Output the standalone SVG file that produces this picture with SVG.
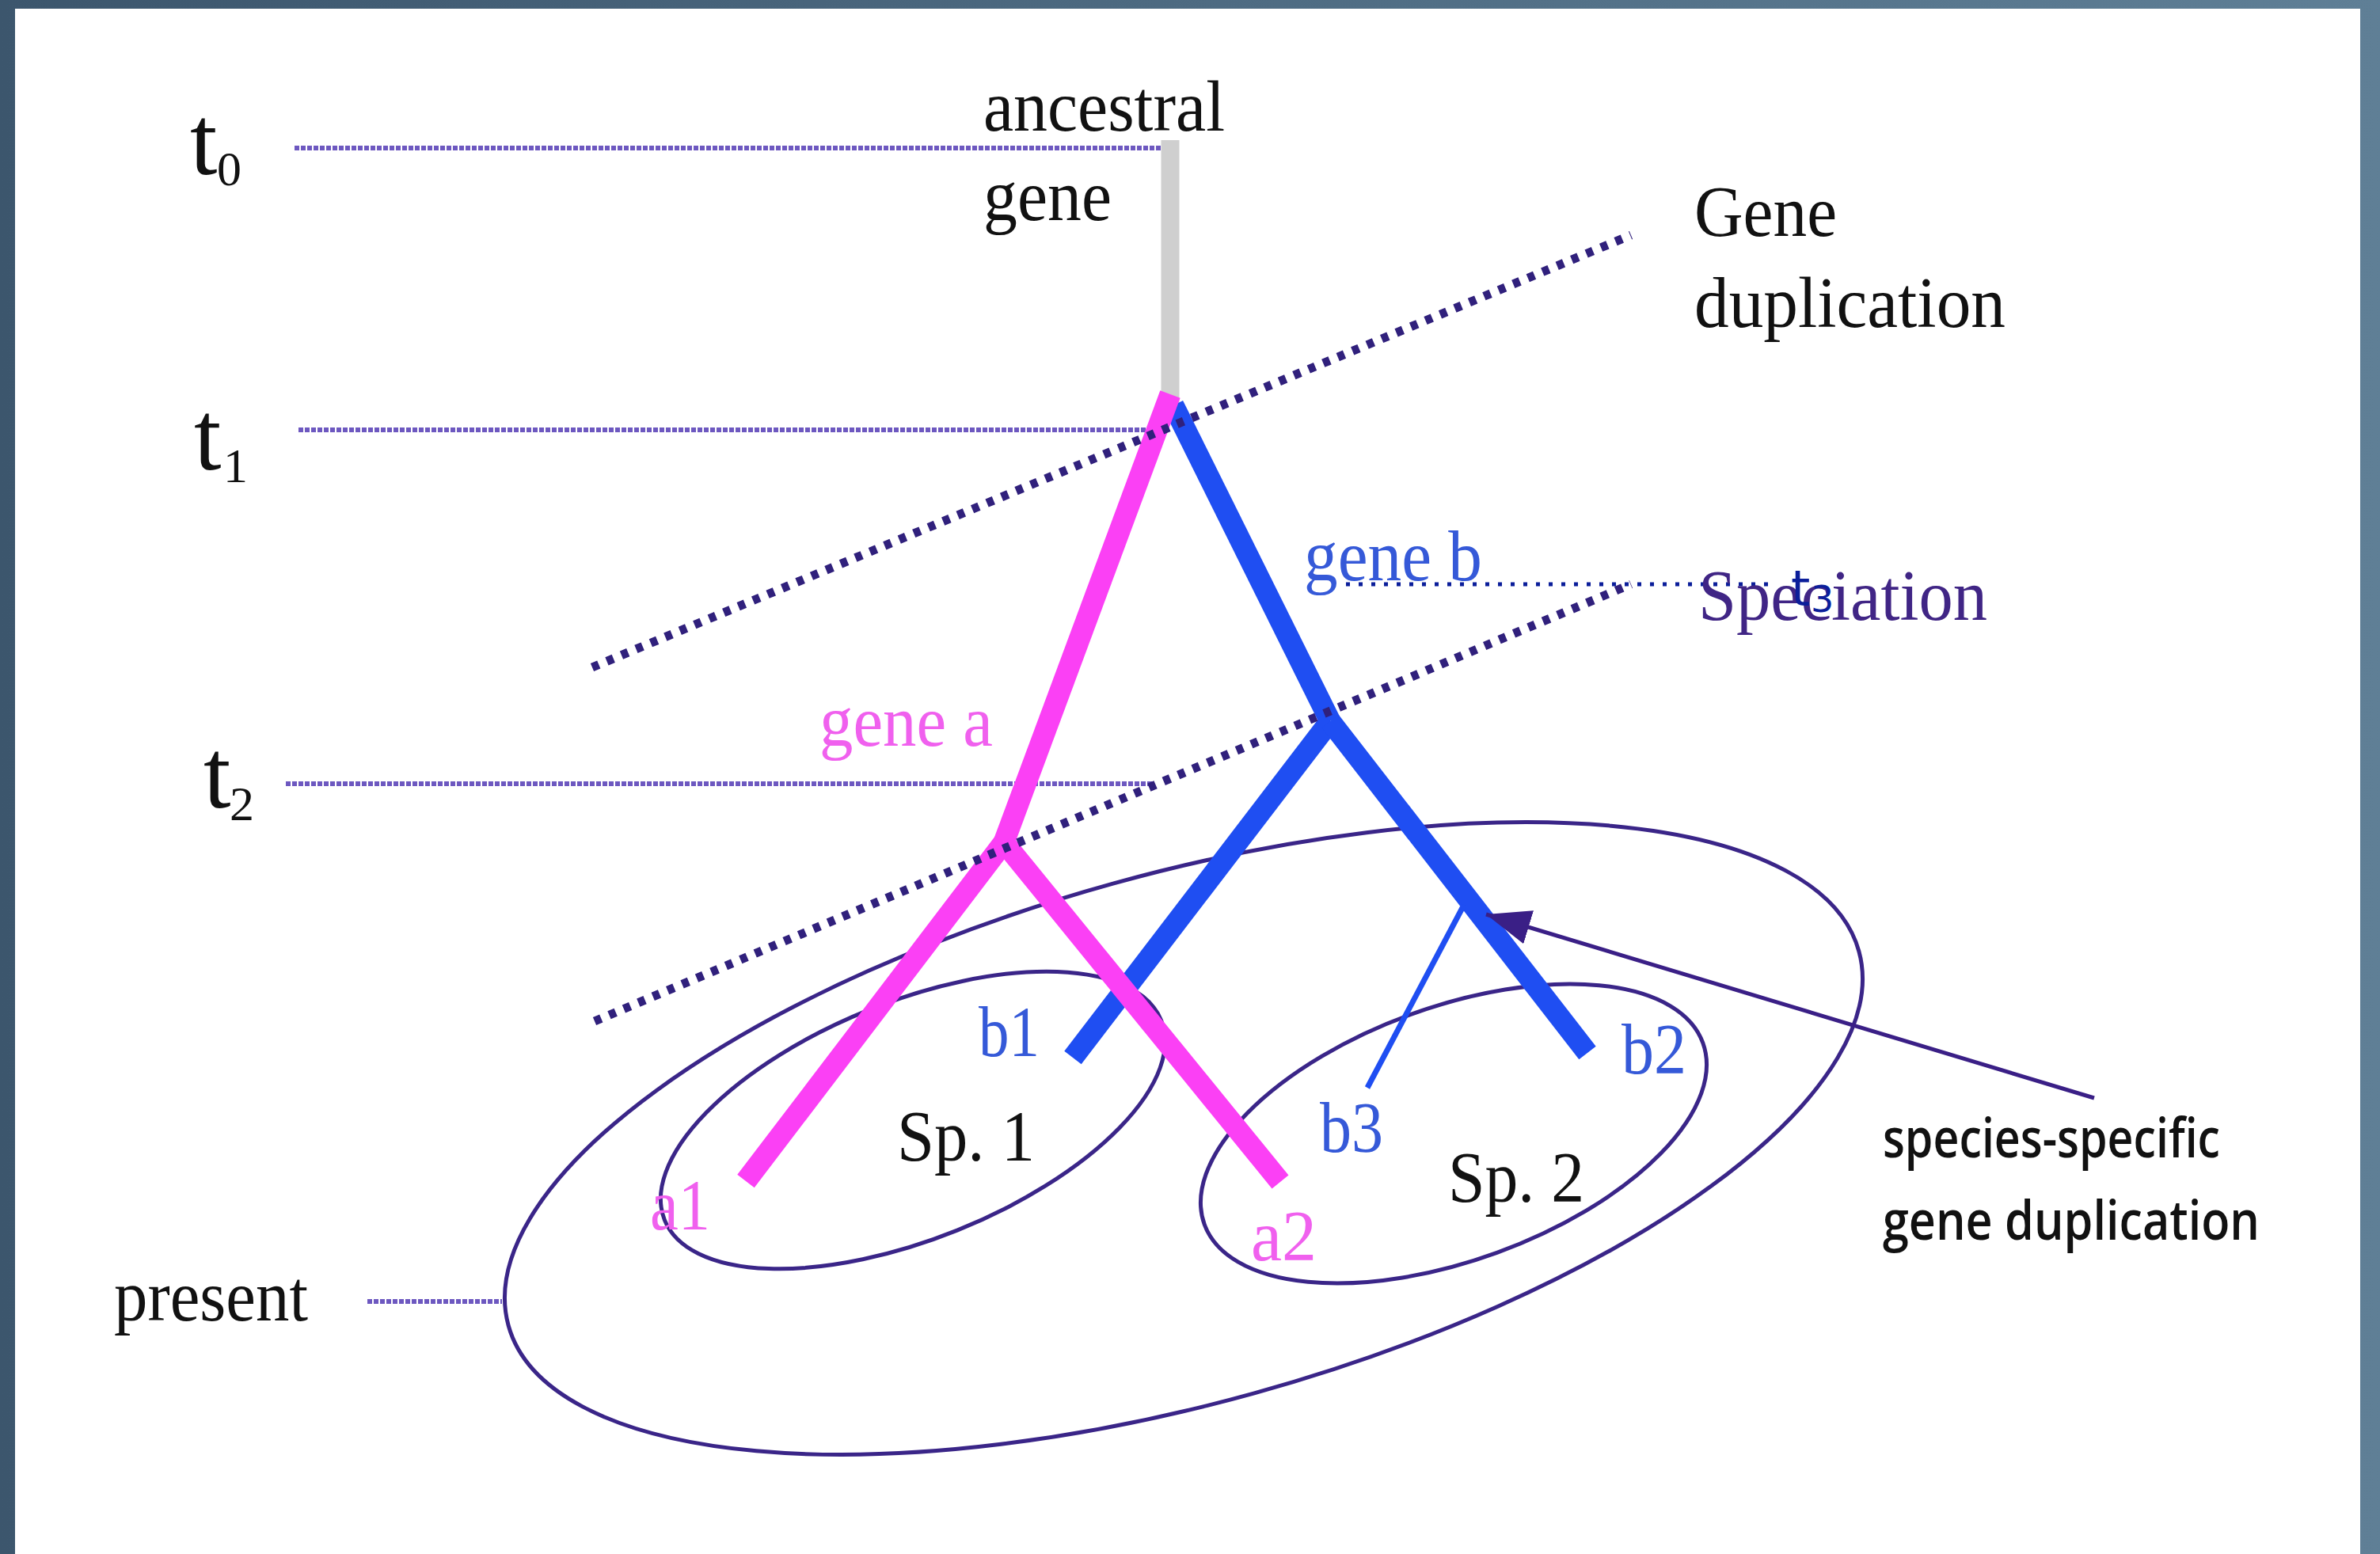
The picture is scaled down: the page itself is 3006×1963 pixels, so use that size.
<svg xmlns="http://www.w3.org/2000/svg" width="3006" height="1963" viewBox="0 0 3006 1963">
<defs>
<linearGradient id="bg" x1="0" y1="0" x2="1" y2="0">
<stop offset="0" stop-color="#3c566d"/>
<stop offset="1" stop-color="#5f7f96"/>
</linearGradient>
<marker id="ah" markerUnits="userSpaceOnUse" markerWidth="60" markerHeight="50" refX="56" refY="22" orient="auto">
<path d="M0,0 L56,22 L0,44 z" fill="#3a1f86"/>
</marker>
<style>
.tl{stroke:#6d58c0;stroke-width:6;stroke-dasharray:6 2;fill:none}
.ell{fill:none;stroke:#3a2588;stroke-width:5}
.pk{stroke:#fb40f5;stroke-width:27;fill:none;stroke-linecap:butt}
.bl{stroke:#1f4ef2;stroke-width:27;fill:none;stroke-linecap:butt}
.dd{stroke:#30207c;stroke-width:11;stroke-dasharray:9 11;fill:none}
.serif{font-family:"Liberation Serif","Times New Roman",serif;font-size:90px}
.blk{fill:#111}
.mg{fill:#f060ee}
.bt{fill:#3559d8}
.sp{fill:#402585}
.sans{font-family:"Open Sans","Noto Sans",sans-serif;font-size:68px;font-weight:600;fill:#111}
</style>
</defs>
<rect x="0" y="0" width="3006" height="1963" fill="url(#bg)"/>
<rect x="19" y="11" width="2962" height="1952" fill="#ffffff"/>

<g id="connectors">
<line class="tl" x1="372" y1="187" x2="1467" y2="187"/>
<line class="tl" x1="377" y1="543" x2="1460" y2="543"/>
<line class="tl" x1="361" y1="990" x2="1455" y2="990"/>
<line class="tl" x1="464" y1="1644" x2="634" y2="1644"/>
<line x1="1478" y1="177" x2="1478" y2="512" stroke="#cfcfcf" stroke-width="23"/>
</g>

<g id="species-all">
<ellipse class="ell" cx="1495" cy="1438" rx="885" ry="334" transform="rotate(-15.5 1495 1438)"/>
</g>
<g id="species-1">
<ellipse class="ell" cx="1153" cy="1415" rx="338" ry="150" transform="rotate(-21.9 1153 1415)"/>
</g>
<g id="species-2">
<ellipse class="ell" cx="1836" cy="1432" rx="335" ry="160" transform="rotate(-20 1836 1432)"/>
</g>

<g id="gene-b-tree">
<line class="bl" x1="1482" y1="512" x2="1680" y2="911"/>
<line class="bl" x1="1680" y1="911" x2="1355" y2="1336"/>
<line class="bl" x1="1680" y1="911" x2="2005" y2="1330"/>
<line x1="1849" y1="1143" x2="1727" y2="1374" stroke="#1f4ef2" stroke-width="7"/>
</g>
<g id="gene-a-tree">
<line class="pk" x1="1478" y1="498" x2="1268" y2="1064"/>
<line class="pk" x1="1268" y1="1064" x2="942" y2="1492"/>
<line class="pk" x1="1268" y1="1064" x2="1617" y2="1493"/>
</g>

<g id="event-lines">
<line class="dd" x1="748" y1="843" x2="2060" y2="297"/>
<line class="dd" x1="751" y1="1290" x2="2060" y2="738"/>
<line x1="1700" y1="738" x2="2235" y2="738" stroke="#0b1e9a" stroke-width="5" stroke-dasharray="5 11"/>
<line x1="2645" y1="1387" x2="1877" y2="1155" stroke="#3a1f86" stroke-width="5" marker-end="url(#ah)"/>
</g>

<g id="labels">
<text class="serif blk" x="240" y="220" style="font-size:124px">t</text>
<text class="serif blk" x="274" y="234" style="font-size:62px">0</text>
<text class="serif blk" x="245" y="593" style="font-size:124px">t</text>
<text class="serif blk" x="282" y="609" style="font-size:62px">1</text>
<text class="serif blk" x="257" y="1020" style="font-size:124px">t</text>
<text class="serif blk" x="290" y="1036" style="font-size:62px">2</text>
<text class="serif blk" x="144" y="1668" textLength="245" lengthAdjust="spacingAndGlyphs">present</text>
</g>

<g id="ancestral-gene">
<text class="serif blk" x="1242" y="165" textLength="305" lengthAdjust="spacingAndGlyphs">ancestral</text>
<text class="serif blk" x="1242" y="278" textLength="162" lengthAdjust="spacingAndGlyphs">gene</text>
</g>
<g id="gene-duplication-label">
<text class="serif blk" x="2140" y="298" textLength="180" lengthAdjust="spacingAndGlyphs">Gene</text>
<text class="serif blk" x="2140" y="413" textLength="393" lengthAdjust="spacingAndGlyphs">duplication</text>
</g>
<g id="speciation-label">
<text class="serif sp" x="2145" y="783" textLength="365" lengthAdjust="spacingAndGlyphs">Speciation</text>
</g>
<g id="t3-label">
<text x="2262" y="765" fill="#0b1e9a" style="font-family:'DejaVu Sans',sans-serif;font-size:62px">t</text>
<text x="2287" y="773" fill="#0b1e9a" style="font-family:'DejaVu Sans',sans-serif;font-size:46px">3</text>
</g>
<g id="gene-labels">
<text class="serif bt" x="1647" y="733" textLength="225" lengthAdjust="spacingAndGlyphs">gene b</text>
<text class="serif mg" x="1035" y="942" textLength="219" lengthAdjust="spacingAndGlyphs">gene a</text>
<text class="serif bt" x="1236" y="1334" textLength="77" lengthAdjust="spacingAndGlyphs">b1</text>
<text class="serif bt" x="2048" y="1356" textLength="82" lengthAdjust="spacingAndGlyphs">b2</text>
<text class="serif bt" x="1667" y="1455" textLength="80" lengthAdjust="spacingAndGlyphs">b3</text>
<text class="serif mg" x="821" y="1553" textLength="76" lengthAdjust="spacingAndGlyphs">a1</text>
<text class="serif mg" x="1580" y="1592" textLength="83" lengthAdjust="spacingAndGlyphs">a2</text>
</g>
<g id="species-labels">
<text class="serif blk" x="1133" y="1466" textLength="174" lengthAdjust="spacingAndGlyphs">Sp. 1</text>
<text class="serif blk" x="1829" y="1518" textLength="172" lengthAdjust="spacingAndGlyphs">Sp. 2</text>
</g>
<g id="ssd-label">
<text class="sans" x="2378" y="1462" textLength="426" lengthAdjust="spacingAndGlyphs">species-specific</text>
<text class="sans" x="2378" y="1566" textLength="476" lengthAdjust="spacingAndGlyphs">gene duplication</text>
</g>
</svg>
